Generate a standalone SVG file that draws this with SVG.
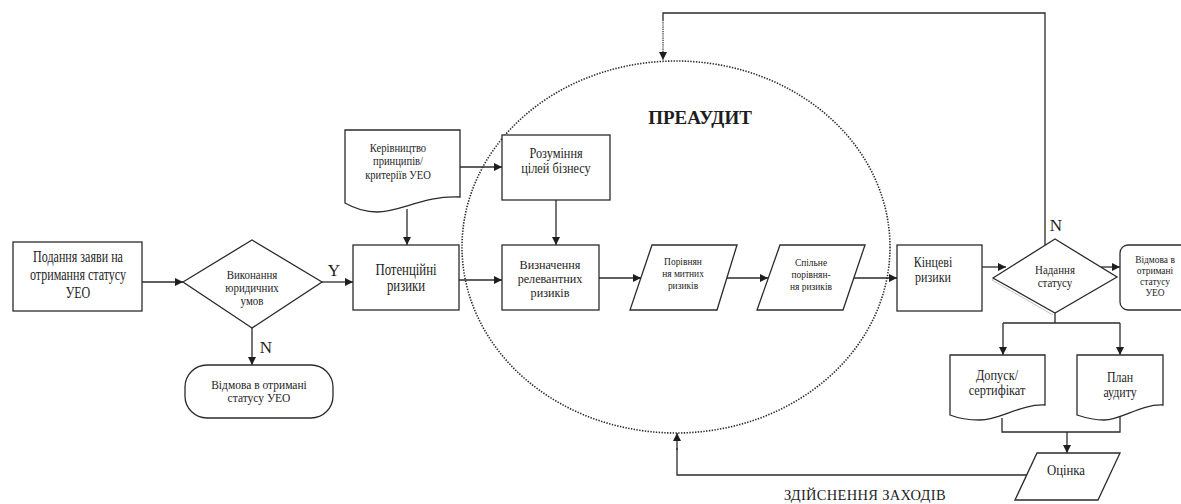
<svg xmlns="http://www.w3.org/2000/svg" width="1181" height="504" viewBox="0 0 1181 504" font-family="'Liberation Serif', 'Times New Roman', 'DejaVu Serif', serif">
<style>
.s{fill:#fff;stroke:#2b2b2b;stroke-width:1.3}
.l{fill:none;stroke:#2b2b2b;stroke-width:1.3}
.d{fill:none;stroke:#2b2b2b;stroke-width:1.6;stroke-dasharray:1.4 1.4}
.sh{fill:none;stroke:#c4c4c4;stroke-width:1}
text{font-family:'Liberation Serif','Times New Roman','DejaVu Serif',serif;fill:#1e1e1e;text-anchor:middle}
.lab{font-size:17px}
</style>
<defs>
<marker id="a" viewBox="0 0 10 10" refX="10" refY="5" markerWidth="8" markerHeight="8" markerUnits="userSpaceOnUse" orient="auto">
<path d="M0,0 L10,5 L0,10 z" fill="#1e1e1e"/>
</marker>
</defs>

<g id="preaudit">
<ellipse cx="676" cy="247" rx="214" ry="186" class="d"/>
<text x="700" y="124" font-family="'Liberation Serif', serif" style="font-size:19px;font-weight:bold">ПРЕАУДИТ</text>
</g>

<g id="connectors">
<line x1="142" y1="282" x2="183" y2="282" class="l" marker-end="url(#a)"/>
<line x1="322" y1="282" x2="353" y2="282" class="l" marker-end="url(#a)"/>
<line x1="252" y1="328" x2="252" y2="365" class="l" marker-end="url(#a)"/>
<line x1="407" y1="209" x2="407" y2="245" class="l" marker-end="url(#a)"/>
<line x1="460" y1="167" x2="502" y2="167" class="l" marker-end="url(#a)"/>
<line x1="556" y1="200" x2="556" y2="245" class="l" marker-end="url(#a)"/>
<line x1="459" y1="280" x2="502" y2="280" class="l" marker-end="url(#a)"/>
<line x1="599" y1="278" x2="641" y2="278" class="l" marker-end="url(#a)"/>
<line x1="727" y1="278" x2="768" y2="278" class="l" marker-end="url(#a)"/>
<line x1="854" y1="278" x2="897" y2="278" class="l" marker-end="url(#a)"/>
<line x1="982" y1="267" x2="1006" y2="267" class="l" marker-end="url(#a)"/>
<line x1="1101" y1="267" x2="1120" y2="267" class="l" marker-end="url(#a)"/>
<polyline points="1045,245 1045,13 663,13 663,20" class="l"/>
<line x1="663" y1="20" x2="663" y2="60" class="l" stroke-dasharray="1.2 1" marker-end="url(#a)"/>
<polyline points="1055,313 1055,323" class="l"/>
<polyline points="1003,323 1120,323" class="l"/>
<line x1="1003" y1="323" x2="1003" y2="355" class="l" marker-end="url(#a)"/>
<line x1="1120" y1="323" x2="1120" y2="355" class="l" marker-end="url(#a)"/>
<polyline points="1002,418 1002,432 1120,432 1120,410" class="l"/>
<line x1="1067" y1="432" x2="1067" y2="453" class="l" marker-end="url(#a)"/>
<polyline points="1027,475 677,475 677,448" class="l"/>
<line x1="677" y1="450" x2="677" y2="433" class="l" marker-end="url(#a)"/>
<text x="334" y="276" class="lab">Y</text>
<text x="266" y="353" class="lab">N</text>
<text x="1056" y="231" class="lab">N</text>
<text x="865" y="500" style="font-size:14.5px;letter-spacing:0.3px">ЗДІЙСНЕННЯ ЗАХОДІВ</text>
</g>

<g id="n1">
<rect x="13" y="242" width="129" height="69" class="s"/>
<g transform="translate(78,0) scale(0.73,1)">
<text x="0" y="262" style="font-size:16.5px">Подання заяви на</text>
<text x="0" y="280" style="font-size:16.5px">отримання статусу</text>
<text x="0" y="298" style="font-size:16.5px">УЕО</text>
</g>
</g>

<g id="n2">
<polygon points="183,282 252,240 322,282 252,328" class="s"/>
<g transform="translate(252,0) scale(0.95,1)">
<text x="0" y="279" style="font-size:11.5px">Виконання</text>
<text x="0" y="292" style="font-size:11.5px">юридичних</text>
<text x="0" y="305" style="font-size:11.5px">умов</text>
</g>
</g>

<g id="n3">
<rect x="185" y="365" width="148" height="53" rx="22" ry="22" class="s"/>
<text x="259" y="389" style="font-size:11.5px">Відмова в отримані</text>
<text x="259" y="402" style="font-size:11.5px">статусу УЕО</text>
</g>

<g id="n4">
<path d="M345,130 H460 V197 C425,195 400,212 377,212 C362,212 352,207 345,203 Z" class="s"/>
<g transform="translate(398,0) scale(0.88,1)">
<text x="0" y="152" style="font-size:12px">Керівництво</text>
<text x="0" y="165" style="font-size:12px">принципів/</text>
<text x="0" y="179" style="font-size:12px">критеріїв УЕО</text>
</g>
</g>

<g id="n5">
<rect x="353" y="245" width="106" height="65" class="s"/>
<g transform="translate(406,0) scale(0.8,1)">
<text x="0" y="275" style="font-size:16px">Потенційні</text>
<text x="0" y="291" style="font-size:16px">ризики</text>
</g>
</g>

<g id="n6">
<rect x="502" y="135" width="108" height="65" class="s"/>
<g transform="translate(556,0) scale(0.82,1)">
<text x="0" y="158" style="font-size:15px">Розуміння</text>
<text x="0" y="173" style="font-size:15px">цілей бізнесу</text>
</g>
</g>

<g id="n7">
<rect x="502" y="245" width="97" height="65" class="s"/>
<g transform="translate(550,0) scale(0.9,1)">
<text x="0" y="269" style="font-size:13.5px">Визначення</text>
<text x="0" y="283" style="font-size:13.5px">релевантних</text>
<text x="0" y="297" style="font-size:13.5px">ризиків</text>
</g>
</g>

<g id="n8">
<polygon points="652,245 737,245 717,310 630,310" class="s"/>
<g transform="translate(683,0) scale(0.9,1)">
<text x="0" y="265" style="font-size:10.5px">Порівнян</text>
<text x="0" y="277" style="font-size:10.5px">ня митних</text>
<text x="0" y="289" style="font-size:10.5px">ризиків</text>
</g>
</g>

<g id="n9">
<polygon points="780,245 865,245 843,310 757,310" class="s"/>
<g transform="translate(811,0) scale(0.9,1)">
<text x="0" y="266" style="font-size:10.5px">Спільне</text>
<text x="0" y="278" style="font-size:10.5px">порівнян-</text>
<text x="0" y="290" style="font-size:10.5px">ня ризиків</text>
</g>
</g>

<g id="n10">
<rect x="897" y="245" width="85" height="66" class="s"/>
<g transform="translate(933,0) scale(0.8,1)">
<text x="0" y="267" style="font-size:15px">Кінцеві</text>
<text x="0" y="282" style="font-size:15px">ризики</text>
</g>
</g>

<g id="n11">
<polyline points="1053,315 992,280 1054,241" class="sh"/>
<polygon points="993,278 1055,239 1117,277 1055,313" class="s"/>
<g transform="translate(1055,0) scale(0.95,1)">
<text x="0" y="274" style="font-size:11.5px">Надання</text>
<text x="0" y="287" style="font-size:11.5px">статусу</text>
</g>
</g>

<g id="n12">
<rect x="1120" y="245" width="80" height="65" rx="8" ry="8" class="s"/>
<g transform="translate(1155,0) scale(0.9,1)">
<text x="0" y="263" style="font-size:10.5px">Відмова в</text>
<text x="0" y="274" style="font-size:10.5px">отримані</text>
<text x="0" y="285" style="font-size:10.5px">статусу</text>
<text x="0" y="296" style="font-size:10.5px">УЕО</text>
</g>
</g>

<g id="n13">
<path d="M950,355 H1045 V405 C1020,404 1000,420 980,420 C965,420 955,417 950,415 Z" class="s"/>
<g transform="translate(997,0) scale(0.85,1)">
<text x="0" y="380" style="font-size:14.5px">Допуск/</text>
<text x="0" y="395" style="font-size:14.5px">сертифікат</text>
</g>
</g>

<g id="n14">
<path d="M1077,355 H1163 V405 C1140,404 1122,420 1104,420 C1092,420 1083,417 1077,415 Z" class="s"/>
<g transform="translate(1120,0) scale(0.82,1)">
<text x="0" y="382" style="font-size:14.5px">План</text>
<text x="0" y="397" style="font-size:14.5px">аудиту</text>
</g>
</g>

<g id="n15">
<polygon points="1037,453 1120,453 1098,500 1015,500" class="s"/>
<g transform="translate(1066,0) scale(0.88,1)">
<text x="0" y="475" style="font-size:14.5px">Оцінка</text>
</g>
</g>
</svg>
